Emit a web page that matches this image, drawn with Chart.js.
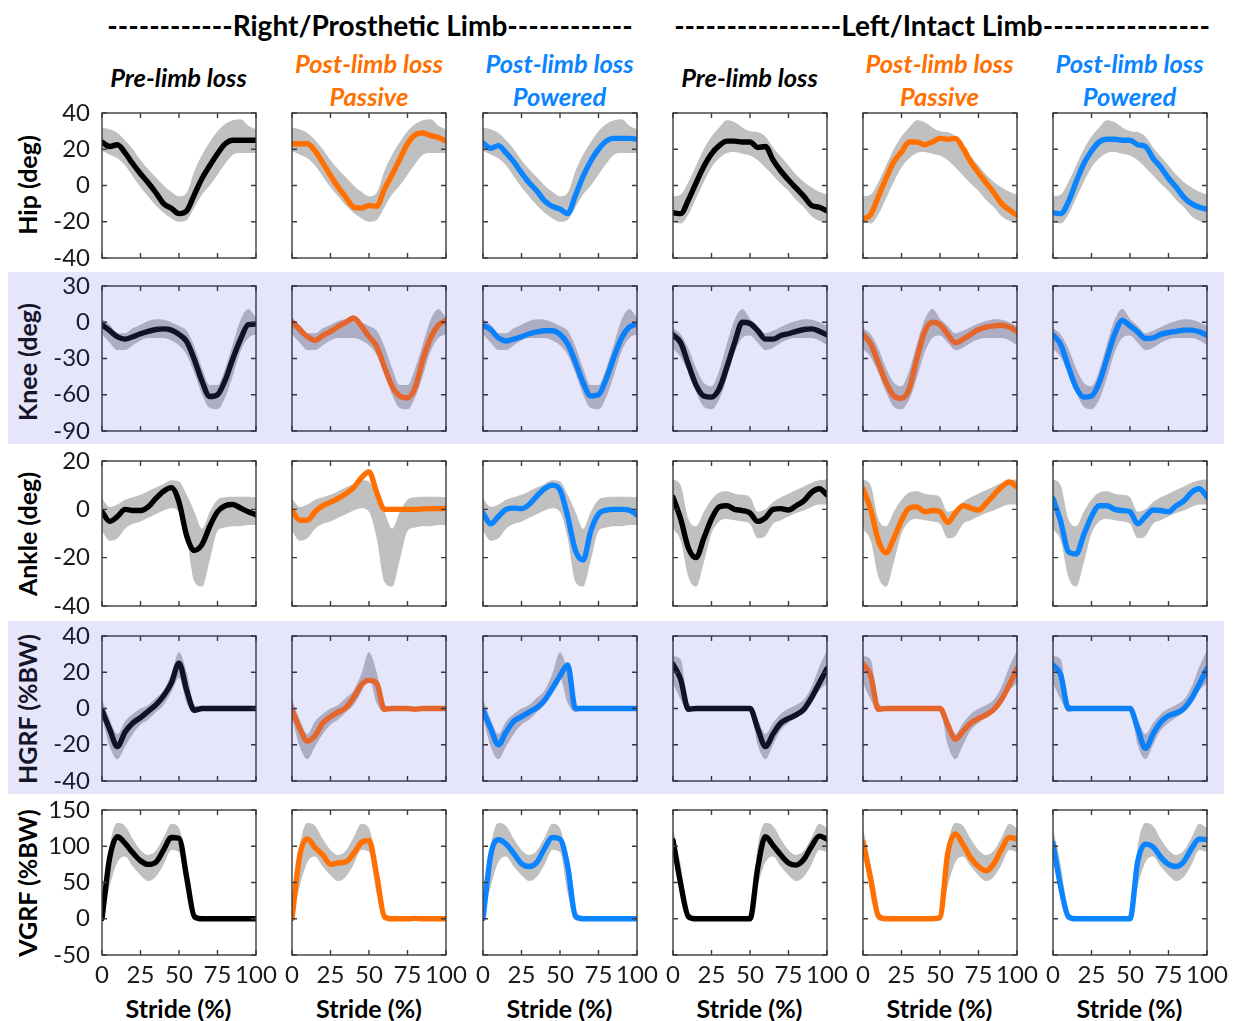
<!DOCTYPE html>
<html>
<head>
<meta charset="utf-8">
<script src="https://cdn.jsdelivr.net/npm/chart.js@4.4.1/dist/chart.umd.min.js"></script>
<style>
  html, body { margin: 0; padding: 0; background: #ffffff; }
  body { width: 1240px; height: 1021px; position: relative; overflow: hidden; font-family: Lato, "Open Sans", sans-serif; }
  .abs { position: absolute; white-space: nowrap; }
  .band { position: absolute; left: 8px; width: 1216px; background: #e6e6fa; }
  .title { font-weight: 700; font-size: 28px; color: #000; transform: translate(-50%, -50%); }
  .hdr { font-weight: 700; font-style: italic; font-size: 25.5px; transform: translate(-50%, -50%); }
  .ylab { font-weight: 700; font-size: 25px; transform: translate(-50%, -50%) rotate(-90deg); }
  .xlab { font-weight: 700; font-size: 25px; color: #000; transform: translate(-50%, -50%); }
  canvas { position: absolute; }
</style>
</head>
<body>
<script>
// ---------------- DATA ----------------
const stride = [0,5,10,15,20,25,30,35,40,45,50,55,60,65,70,75,80,85,90,95,100];
const xTicks = [0, 25, 50, 75, 100];
const rowNames = ["Hip (deg)", "Knee (deg)", "Ankle (deg)", "HGRF (%BW)", "VGRF (%BW)"];
const rowMin = [-40, -90, -40, -40, -50];
const rowMax = [40, 30, 20, 40, 150];
const rowStep = [20, 30, 20, 20, 50];
const conditions = ["Pre-limb loss", "Post-limb loss|Passive", "Post-limb loss|Powered"];
const sides = ["------------Right/Prosthetic Limb------------", "----------------Left/Intact Limb----------------"];

// Hip
const hipPreR = [24,21.5,22.5,18,12,6.5,1.5,-4,-10,-12.5,-15.5,-14,-5,4,11,17.5,23,25,25,25,25];
const hipPasR = [23,23,23,19,12.5,5.5,-1,-6.5,-12,-12.5,-11,-11.5,-2,6,14.5,23,28,29,27.5,26.5,24.5];
const hipPowR = [23.5,20.5,22,18,13,7,1.5,-3,-8.5,-11.5,-13,-15.5,-5.5,5,13.5,20,24.5,26,26,26,25.5];
const hipLoR = [19,17,15,11,5,-1,-6,-11,-15,-18,-20,-19,-12,-5,0,6,12,17,18,18,18];
const hipHiR = [32,31,29,25,20,14,9,4.5,0,-3.5,-6,-4,8,17,24,30,34,36,36.5,33,31];
const hipPreL = [-15,-15.5,-8,1.5,10.5,17.5,22,24.5,24.5,24,24,21,21.5,14,8,3,-1.5,-6,-11,-12,-14];
const hipPasL = [-18.5,-16,-6,4,13,18.5,24,24,22.5,24,26,25.5,26,20.5,13,7,1.5,-4,-10,-13.5,-16.5];
const hipPowL = [-15,-15.5,-9,2,12,19,24,25.5,25.5,25,25,22.5,21.5,15,10,4,-1,-6.5,-10,-12,-13];
const hipLoL = [-20,-21,-16,-7,2,10,15,18,18.5,17.5,16.5,14,10,5.5,1,-3,-8,-12,-17,-19.5,-20.5];
const hipHiL = [-6,-5,2,11,20,27,32,36,35,32,30,29.5,27,21,16,11,6,2,-1,-3.5,-5];

// Knee
const kneePreR = [-2,-7,-12,-14,-12,-9.5,-7.5,-6,-5.5,-6.5,-10,-16,-31,-49,-61.5,-60,-48,-30,-14,-2,-1.5];
const kneePasR = [0.5,-6,-12,-15,-11,-7.5,-3.5,0,3.5,-3,-12,-20,-37,-53,-61,-62.5,-54,-31,-13,-2.5,1.5];
const kneePowR = [-2.5,-6,-13,-15.5,-14,-12,-9.5,-8,-7,-7,-10,-18,-33,-50,-61,-60,-47,-29,-13,-4,-1.5];
const kneeLoR = [-10,-17,-23,-23,-19,-15,-13,-13,-13,-15,-19,-27,-42,-60,-71,-72,-62,-44,-24,-13,-10];
const kneeHiR = [3,-2,-9,-9,-5,-2,1,2.5,2,0,-3,-7,-20,-38,-52,-52,-38,-18,2,11,4];
const kneePreL = [-10.5,-17,-35,-52,-61,-62,-55,-37,-17,0,-1,-7,-14,-14,-11,-9.5,-7.5,-6,-5.5,-7.5,-10.5];
const kneePasL = [-10,-18,-34,-50,-61,-63,-55,-30,-8,0,-2,-10,-17,-14,-10,-6,-4,-3,-2.5,-4,-7.5];
const kneePowL = [-10.5,-18.5,-37,-54,-62,-61,-50,-30,-10,1.5,-3,-8,-13.5,-13,-10,-8.5,-7.5,-6.5,-6.5,-8,-10.5];
const kneeLoL = [-22,-29,-42,-58,-70,-72,-64,-46,-25,-13,-11,-17,-23,-21,-17,-14,-13,-13,-13,-15,-19];
const kneeHiL = [-5,-10,-22,-38,-50,-53,-40,-18,2,11,3,-3,-9,-7,-4,-1,1,2.5,2,0,-3];

// Ankle
const anklePreR = [-1,-5,-3,0,-0.5,-0.5,1,4.5,7.5,9,3,-11,-17,-14.5,-7,-1,1.5,2,0.5,-1,-2.3];
const anklePasR = [-0.5,-4.5,-4.5,-1,1.5,3,4.5,6.5,9,13,15.5,7,0,0,0,0,0,0.2,0.3,0.3,0.3];
const anklePowR = [-1.5,-6,-3,0,0.5,0.3,2,5.5,8.5,10,8,-3,-17,-21,-9,-2,-0.3,0,0,-0.3,-2.3];
const ankleLoR = [-9,-13,-12,-8,-6,-5,-3.5,-2,-0.5,0.5,-1,-12,-30,-32,-21,-9,-7.5,-7,-7,-6.5,-6.5];
const ankleHiR = [4.5,1,2,4,5,6,7.5,9,10.5,12,11.5,6,-1,-8,-1,4,5,5.2,5.2,5.2,5];
const anklePreL = [5,-4,-16,-20,-12,-4,1,1.5,0,-0.5,-1.5,-5,-3.5,0,0.3,-0.3,1.5,3.5,7,8.5,6];
const anklePasL = [8.5,0,-13,-18,-12,-4.5,0.5,1,-1,-0.5,-1,-5.5,-1.5,1.5,0.5,-0.3,2.5,6,9.3,11.3,9.3];
const anklePowL = [4.5,-5,-17.5,-18.5,-10.5,-3,1.5,1.5,0,-0.5,-1,-6,-3,-0.3,-0.5,-1,1.5,3.5,7,8.5,5.2];
const ankleLoL = [-8,-13,-28,-32,-22,-10,-5,-4,-4.5,-5,-6,-12,-11,-6,-4.5,-3,-1.5,-0.5,1,2,2];
const ankleHiL = [12.5,10,-4,-7,-1,4,7,7.5,6.5,6,5,-1,0,3,5,6.5,8,9.5,11,12,12.5];

// HGRF
const hgrfPreR = [-1,-11.5,-21,-13,-8,-5,-1.5,2,7,14,25,10,-1,0,0,0,0,0,0,0,0];
const hgrfPasR = [-1,-11,-18,-15,-8,-4.5,-2,0.5,6,13,15.5,14,-0.5,0,0,0,-0.5,0,0,0,0];
const hgrfPowR = [-1,-11,-20,-13,-7,-4.5,-2,0.5,4.5,11,18,24,0,0,0,0,0,0,0,0,0];
const hgrfLoR = [-5,-21,-28,-21,-14,-9,-6,-2,2,9,17,3,-2,-1,-1,-1,-1,-1,-1,-1,-1];
const hgrfHiR = [5,-6,-14,-7,-3,0,2,6,10,19,31,20,2,1,1,1,1,1,1,1,1];
const hgrfPreL = [24.5,16,-0.5,0,0,0,0,0,0,0,0,-11,-21,-14,-8,-5.5,-3.5,-0.5,6,14,22];
const hgrfPasL = [24.5,18,-0.5,0,0,0,0,0,0,0,0,-9,-17,-12.5,-8,-5.5,-3.5,-0.5,5,13,22];
const hgrfPowL = [24,18.5,0,0,0,0,0,0,0,0,0,-11,-22,-14,-7.5,-4,-2.5,0,5.5,13.5,22];
const hgrfLoL = [14,5,-2,-1,-1,-1,-1,-1,-1,-1,-1,-20,-28,-20,-12,-8,-5,-2,3,10,14];
const hgrfHiL = [29,27,3,1,1,1,1,1,1,1,1,-6,-14,-8,-3,0,2,5,12,23,32];

// VGRF
const vgrfPreR = [0,84,113,104,91,80,75,78,95,112,111,57,3,0,0,0,0,0,0,0,0];
const vgrfPasR = [0,87,110,98,88,75,77,78.5,90,105,108,60,3,0,0,0,0.5,0,0,0,0];
const vgrfPowR = [0,88,109,103,90,76,72,78,97,112,110,72,4,0,0,0,0,0,0,0,0];
const vgrfLoR = [0,45,78,86,72,60,52,58,75,95,92,35,-2,-3,-3,-3,-3,-3,-3,-3,-3];
const vgrfHiR = [2,100,132,128,110,95,88,94,112,131,125,75,10,3,3,3,3,3,3,3,3];
const vgrfPreL = [108,48,3,0,0,0,0,0,0,0,0,70,113,101,88,77,74,82,100,114,110];
const vgrfPasL = [106,55,4,0,0,0,0,0,0,0,2,90,117,102,84,72,66,76,96,112,110];
const vgrfPowL = [104,44,3,0,0,0,0,0,0,0,0,79,103,99,85,75,72,79,97,110,109];
const vgrfLoL = [92,35,-2,-3,-3,-3,-3,-3,-3,-3,-3,45,78,86,72,60,52,58,75,95,92];
const vgrfHiL = [125,75,10,3,3,3,3,3,3,3,3,100,132,128,110,95,88,94,112,131,125];

// panel table built from the named arrays: [row][col]
const means = [
  [hipPreR, hipPasR, hipPowR, hipPreL, hipPasL, hipPowL],
  [kneePreR, kneePasR, kneePowR, kneePreL, kneePasL, kneePowL],
  [anklePreR, anklePasR, anklePowR, anklePreL, anklePasL, anklePowL],
  [hgrfPreR, hgrfPasR, hgrfPowR, hgrfPreL, hgrfPasL, hgrfPowL],
  [vgrfPreR, vgrfPasR, vgrfPowR, vgrfPreL, vgrfPasL, vgrfPowL]
];
const bandsLo = [[hipLoR, hipLoL], [kneeLoR, kneeLoL], [ankleLoR, ankleLoL], [hgrfLoR, hgrfLoL], [vgrfLoR, vgrfLoL]];
const bandsHi = [[hipHiR, hipHiL], [kneeHiR, kneeHiL], [ankleHiR, ankleHiL], [hgrfHiR, hgrfHiL], [vgrfHiR, vgrfHiL]];

// ---------------- LAYOUT / STYLE ----------------
const colLeft = [101.5, 292, 482.5, 672.5, 862.5, 1052.5];
const plotW = 154;
const rowTop = [112.5, 286, 461, 636, 810];
const plotH = 145;
const shaded = [false, true, false, true, false];
const AXW = 70, PADT = 20, PADR = 25, XAH = 50;

const lineCol = {
  plain: ["#000000", "#ff7000", "#0a84ff"],
  shade: ["#121226", "#e4662c", "#0a80fa"]
};
const hdrCol = ["#000000", "#ff7000", "#0a84ff"];

function addDiv(cls, text, x, y, color) {
  const d = document.createElement("div");
  d.className = "abs " + cls;
  d.textContent = text;
  d.style.left = x + "px";
  d.style.top = y + "px";
  if (color) d.style.color = color;
  document.body.appendChild(d);
  return d;
}

[[272, 444], [621, 794]].forEach(([a, b]) => {
  const d = document.createElement("div");
  d.className = "band";
  d.style.top = a + "px";
  d.style.height = (b - a) + "px";
  document.body.appendChild(d);
});

addDiv("title", sides[0], 370, 25);
addDiv("title", sides[1], 942, 25);

for (let c = 0; c < 6; c++) {
  const cx = colLeft[c] + plotW / 2;
  const parts = conditions[c % 3].split("|");
  if (parts.length === 1) addDiv("hdr", parts[0], cx, 77, hdrCol[c % 3]);
  else {
    addDiv("hdr", parts[0], cx, 63, hdrCol[c % 3]);
    addDiv("hdr", parts[1], cx, 96, hdrCol[c % 3]);
  }
  addDiv("xlab", "Stride (%)", cx, 1008);
}

for (let r = 0; r < 5; r++) {
  addDiv("ylab", rowNames[r], 27, rowTop[r] + plotH / 2 + (r === 1 ? 3 : 0), shaded[r] ? "#14142a" : "#000");
}

const framePlugin = {
  id: "frame",
  afterDatasetsDraw(chart, args, opts) {
    const { ctx, chartArea: a, scales } = chart;
    const xs = scales.x, ys = scales.y;
    ctx.save();
    ctx.strokeStyle = opts.color;
    ctx.lineWidth = 1.4;
    ctx.strokeRect(a.left, a.top, a.right - a.left, a.bottom - a.top);
    const L = 5;
    ctx.beginPath();
    xs.ticks.forEach(t => {
      const px = xs.getPixelForValue(t.value);
      ctx.moveTo(px, a.bottom); ctx.lineTo(px, a.bottom - L);
      ctx.moveTo(px, a.top); ctx.lineTo(px, a.top + L);
    });
    ys.ticks.forEach(t => {
      const py = ys.getPixelForValue(t.value);
      ctx.moveTo(a.left, py); ctx.lineTo(a.left + L, py);
      ctx.moveTo(a.right, py); ctx.lineTo(a.right - L, py);
    });
    ctx.stroke();
    ctx.restore();
  }
};

function pts(arr) { return arr.map((v, i) => ({ x: stride[i], y: v })); }
function noPad(s) { s.paddingTop = 0; s.paddingBottom = 0; s.paddingLeft = 0; s.paddingRight = 0; }

for (let r = 0; r < 5; r++) {
  for (let c = 0; c < 6; c++) {
    const cv = document.createElement("canvas");
    const W = AXW + plotW + PADR, H = PADT + plotH + XAH;
    cv.width = W; cv.height = H;
    cv.style.left = (colLeft[c] - AXW) + "px";
    cv.style.top = (rowTop[r] - PADT) + "px";
    cv.style.width = W + "px"; cv.style.height = H + "px";
    document.body.appendChild(cv);
    const sh = shaded[r];
    const side = c < 3 ? 0 : 1;
    const lc = (sh ? lineCol.shade : lineCol.plain)[c % 3];
    const bandCol = sh ? "#adadc3" : "#c0c0c0";
    const txtCol = sh ? "#1a1a30" : "#1a1a1a";
    new Chart(cv, {
      type: "line",
      data: {
        datasets: [
          { data: pts(means[r][c]), borderColor: lc, borderWidth: 5.4, pointRadius: 0,
            cubicInterpolationMode: "monotone", fill: false, borderCapStyle: "round", borderJoinStyle: "round" },
          { data: pts(bandsHi[r][side]), borderWidth: 0, borderColor: "rgba(0,0,0,0)", pointRadius: 0,
            cubicInterpolationMode: "monotone", fill: "+1", backgroundColor: bandCol },
          { data: pts(bandsLo[r][side]), borderWidth: 0, borderColor: "rgba(0,0,0,0)", pointRadius: 0,
            cubicInterpolationMode: "monotone", fill: false }
        ]
      },
      options: {
        responsive: false,
        animation: false,
        events: [],
        layout: { padding: { top: PADT, right: PADR, left: 0, bottom: 0 } },
        plugins: { legend: { display: false }, tooltip: { enabled: false }, frame: { color: sh ? "#34344a" : "#3c3c3c" } },
        scales: {
          x: {
            type: "linear", min: 0, max: 100,
            afterBuildTicks: s => { s.ticks = xTicks.map(v => ({ value: v })); },
            grid: { display: false, drawTicks: false },
            border: { display: false },
            ticks: { display: r === 4, color: "#1a1a1a", font: { family: "Lato", size: 24 }, padding: 6,
                     autoSkip: false, maxRotation: 0, minRotation: 0 },
            afterFit: s => { s.height = XAH; noPad(s); }
          },
          y: {
            type: "linear", min: rowMin[r], max: rowMax[r],
            ticks: { display: c === 0, stepSize: rowStep[r], color: txtCol, font: { family: "Lato", size: 24 }, padding: 12 },
            grid: { display: false, drawTicks: false },
            border: { display: false },
            afterFit: s => { s.width = AXW; noPad(s); }
          }
        }
      },
      plugins: [framePlugin]
    });
  }
}
</script>
</body>
</html>
